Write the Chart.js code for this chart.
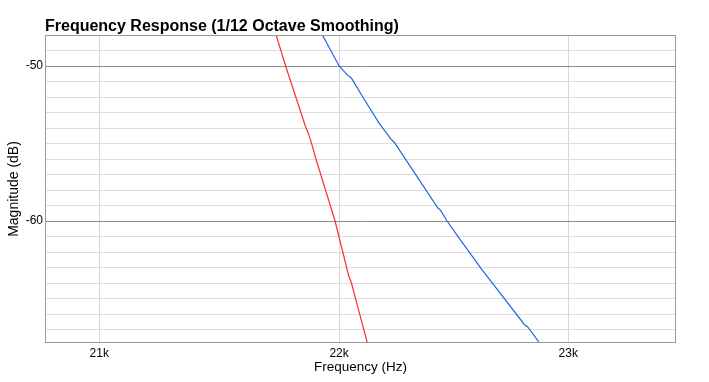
<!DOCTYPE html>
<html>
<head>
<meta charset="utf-8">
<script src="https://cdn.jsdelivr.net/npm/chart.js@4/dist/chart.umd.min.js"></script>
<style>
html,body{margin:0;padding:0;background:#fff;}
#wrap{width:709px;height:382px;position:relative;}
</style>
</head>
<body>
<div id="wrap"><canvas id="c" width="709" height="382"></canvas></div>
<script>
// ---- data ----
const chartTitle = "Frequency Response (1/12 Octave Smoothing)";
const xTickValues = [21000, 22000, 23000];
const yMajorTicks = [-50, -60];

const redFreq = [21729, 21773, 21857.5, 21868.1, 21880.8, 21899.9, 21982.9, 22041, 22051.3, 22083, 22121, 22126];
const redMag  = [-47.8, -50.0, -53.92, -54.30, -54.88, -55.92, -60.0, -63.53, -63.92, -65.72, -67.87, -68.2];

const blueFreq = [21922, 22000, 22034.2, 22053, 22100.5, 22171.4, 22220.9, 22238.1, 22425.7, 22437, 22465.7, 22520, 22616.6, 22806, 22819.3, 22872.5, 22888];
const blueMag  = [-47.8, -50.0, -50.56, -50.79, -51.98, -53.68, -54.69, -54.95, -59.16, -59.30, -60.0, -61.14, -63.10, -66.69, -66.82, -67.87, -68.2];

const toPts = (xs, ys) => xs.map((x, i) => ({x: x, y: ys[i]}));
const FONT = "'Liberation Sans', Arial, Helvetica, sans-serif";

const framePlugin = {
  id: 'frame',
  afterDraw(chart) {
    const {ctx, chartArea: a} = chart;
    ctx.save();
    ctx.strokeStyle = '#9a9a9a';
    ctx.lineWidth = 1;
    ctx.strokeRect(Math.round(a.left) + 0.5, Math.round(a.top) + 0.5,
                   Math.round(a.right - a.left) - 1, Math.round(a.bottom - a.top) - 1);
    ctx.fillStyle = '#000';
    ctx.font = "bold 16px " + FONT;
    ctx.textBaseline = 'alphabetic';
    ctx.textAlign = 'left';
    ctx.fillText(chartTitle, a.left, 30.5);
    ctx.restore();
  }
};

new Chart(document.getElementById('c'), {
  type: 'line',
  data: {
    datasets: [
      { data: toPts(redFreq, redMag), borderColor: 'rgb(255,45,45)', borderWidth: 1.2, pointRadius: 0, tension: 0, fill: false },
      { data: toPts(blueFreq, blueMag), borderColor: 'rgb(35,100,225)', borderWidth: 1.2, pointRadius: 0, tension: 0, fill: false }
    ]
  },
  options: {
    responsive: false,
    animation: false,
    events: [],
    layout: { padding: { top: 35, right: 33, left: 0, bottom: 0 } },
    plugins: { legend: { display: false }, title: { display: false }, tooltip: { enabled: false } },
    scales: {
      x: {
        type: 'logarithmic',
        min: 20780,
        max: 23486,
        afterBuildTicks: (s) => { s.ticks = xTickValues.map(v => ({value: v})); },
        afterFit: (s) => { s.height = 39; },
        ticks: {
          autoSkip: false, maxRotation: 0, padding: 3,
          color: '#000', font: { family: FONT, size: 12 },
          callback: (v) => (v / 1000) + 'k'
        },
        grid: { color: '#d6d6d6', lineWidth: 1, drawTicks: false },
        border: { display: false },
        title: { display: true, text: 'Frequency (Hz)', color: '#000', font: { family: FONT, size: 13.5 }, padding: { top: 0, bottom: 7 } }
      },
      y: {
        type: 'linear',
        min: -67.87,
        max: -48,
        afterBuildTicks: (s) => { const t = []; for (let v = -67; v <= -48; v++) t.push({value: v}); s.ticks = t; },
        afterFit: (s) => { s.width = 45; },
        ticks: {
          autoSkip: false, padding: 2,
          color: '#000', font: { family: FONT, size: 12 },
          callback: (v) => yMajorTicks.includes(v) ? String(v) : ''
        },
        grid: {
          drawTicks: false,
          color: (ctx) => (ctx.tick && yMajorTicks.includes(ctx.tick.value)) ? '#8c8c8c' : '#dcdcdc',
          lineWidth: 1
        },
        border: { display: false },
        title: { display: true, text: 'Magnitude (dB)', color: '#000', font: { family: FONT, size: 14 }, padding: { top: 6, bottom: 0 } }
      }
    }
  },
  plugins: [framePlugin]
});
</script>
</body>
</html>
